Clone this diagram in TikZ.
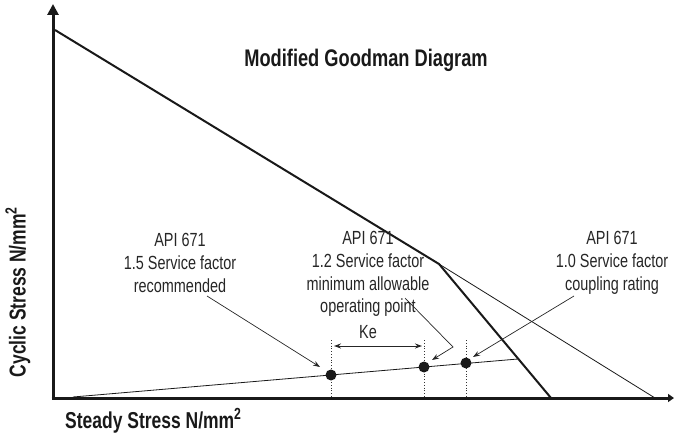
\documentclass[tikz,border=0pt]{standalone}
\usepackage{fontspec}
\setmainfont{Liberation Sans}[FakeStretch=0.76]
\newfontfamily\boldcond{Liberation Sans}[FakeStretch=0.76]
\usetikzlibrary{arrows.meta}
\begin{document}
\begin{tikzpicture}[x=1pt,y=-1pt,
  axis/.style={line width=3pt,draw=black!90},
  thickline/.style={line width=2pt,draw=black!90},
  thinline/.style={line width=0.8pt,draw=black!90},
  guide/.style={line width=0.8pt,dotted,draw=black!80},
  pointer/.style={line width=0.7pt,draw=black!85,-{Stealth[length=7pt,width=5pt]}},
  lbl/.style={font=\fontsize{19}{22.7}\selectfont,align=center,text=black!85,inner sep=0pt},
  dot/.style={circle,fill=black!90,minimum size=11pt,inner sep=0pt},
  bold/.style={font=\boldcond\fontsize{23}{26}\selectfont\bfseries,text=black!90,inner sep=0pt}]
\useasboundingbox (0,0) rectangle (674,435);
% axes
\coordinate (O) at (53,398);
\coordinate (Ytop) at (53,4);
\coordinate (Xend) at (674,398);
\draw[axis,-{Triangle[length=11pt,width=11pt]}] (53,399.5) -- (Ytop);
\draw[axis,-{Triangle[length=6pt,width=8pt]}] (51.5,398) -- (Xend);
% goodman lines
\coordinate (A) at (55,30);
\coordinate (K) at (439,264);
\coordinate (B) at (551,398);
\coordinate (C) at (655,398);
\draw[thickline] (A) -- (K) -- (B);
\draw[thinline] (K) -- (C);
% load line
\coordinate (L0) at (73,397);
\coordinate (L1) at (518,359);
\draw[thinline] (L0) -- (L1);
% guides
\coordinate (g1t) at (331,340); \coordinate (g1b) at (331,398);
\coordinate (g2t) at (424,340); \coordinate (g2b) at (424,398);
\coordinate (g3t) at (466,340); \coordinate (g3b) at (466,398);
\draw[guide] (g1t) -- (g1b);
\draw[guide] (g2t) -- (g2b);
\draw[guide] (g3t) -- (g3b);
% dots
\node[dot] (p1) at (331,375) {};
\node[dot] (p2) at (424,367) {};
\node[dot] (p3) at (466,363) {};
% Ke
\coordinate (k1) at (334,346);
\coordinate (k2) at (422,346);
\draw[line width=1pt,draw=black!85,{Stealth[length=7pt,width=5pt]}-{Stealth[length=7pt,width=5pt]}] (k1) -- (k2);
\node[lbl] (ke) at (368,332) {Ke};
% labels
\node[lbl] (t1) at (180,263) {API 671\\1.5 Service factor\\recommended};
\node[lbl] (t2) at (368,274) {API 671\\1.2 Service factor\\minimum allowable\\operating point};
\node[lbl] (t3) at (612,263) {API 671\\1.0 Service factor\\coupling rating};
% pointers
\coordinate (a1) at (207,296);
\draw[pointer] (a1) -- (320,367);
\coordinate (a2) at (405,298);
\coordinate (a2b) at (453,347);
\draw[pointer] (a2) -- (a2b) -- (432,360);
\coordinate (a3) at (574,296);
\draw[pointer] (a3) -- (473,357);
% titles
\node[bold,font=\boldcond\fontsize{24}{26}\selectfont\bfseries] (title) at (366,60) {Modified Goodman Diagram};
\node[bold,anchor=west] (xl) at (65,421) {Steady Stress N/mm\textsuperscript{2}};
\node[bold,rotate=90] (yl) at (18,292) {Cyclic Stress N/mm\textsuperscript{2}};
\end{tikzpicture}
\end{document}
